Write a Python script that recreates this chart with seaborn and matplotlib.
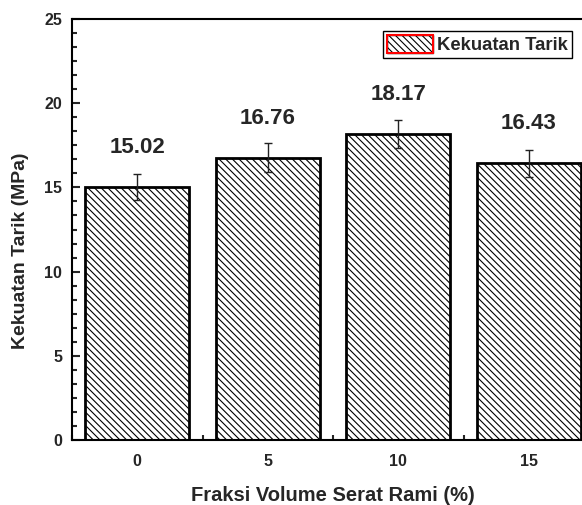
import pandas as pd
import matplotlib
matplotlib.use('Agg')
import matplotlib.pyplot as plt
import seaborn as sns
from matplotlib.ticker import MultipleLocator, AutoMinorLocator
from matplotlib.patches import Patch
from matplotlib.legend_handler import HandlerTuple

fraksi = [0, 5, 10, 15]
kekuatan = [15.02, 16.76, 18.17, 16.43]
error = [0.75, 0.85, 0.85, 0.8]
labels = ['15.02', '16.76', '18.17', '16.43']

df = pd.DataFrame({'fraksi': fraksi, 'kekuatan': kekuatan})

sns.set_style('ticks')
plt.rcParams['font.family'] = ['Liberation Sans', 'DejaVu Sans']
plt.rcParams['font.weight'] = 'bold'
plt.rcParams['hatch.linewidth'] = 0.8

HATCH = '\\' * 5

fig = plt.figure(figsize=(5.82, 5.05), dpi=100)
ax = fig.add_axes([72 / 582, 1 - 440 / 505, 522 / 582, 421 / 505])

sns.barplot(data=df, x='fraksi', y='kekuatan', native_scale=True, color='white',
            edgecolor='black', linewidth=2, width=0.8, errorbar=None, ax=ax)
for bar in ax.patches:
    bar.set_hatch(HATCH)
    bar.set_facecolor('white')

ax.errorbar(fraksi, kekuatan, yerr=error, fmt='none', ecolor='#222222',
            elinewidth=1, capsize=3, capthick=1)

for x, y, t in zip(fraksi, kekuatan, labels):
    ax.text(x, y + 2.35, t, ha='center', va='center', fontsize=16, fontweight='bold')

ax.set_xlim(-2.5, 17.5)
ax.set_ylim(0, 25)
ax.xaxis.set_major_locator(MultipleLocator(5))
ax.xaxis.set_minor_locator(MultipleLocator(2.5))
ax.yaxis.set_major_locator(MultipleLocator(5))
ax.yaxis.set_minor_locator(AutoMinorLocator(6))
ax.tick_params(which='major', direction='in', length=6, width=1.5, labelsize=11.5, pad=7)
ax.tick_params(which='minor', direction='in', length=3.5, width=1.5)
ax.tick_params(axis='x', which='major', pad=10)
for lab in ax.get_xticklabels() + ax.get_yticklabels():
    lab.set_fontweight('bold')
for sp in ax.spines.values():
    sp.set_visible(True)
    sp.set_linewidth(1.5)
    sp.set_color('black')

ax.set_xlabel('Fraksi Volume Serat Rami (%)', fontsize=14.5, fontweight='bold', labelpad=12)
ax.set_ylabel('Kekuatan Tarik (MPa)', fontsize=14, fontweight='bold')
ax.yaxis.set_label_coords(-0.082, 0.45)

h1 = Patch(facecolor='white', edgecolor='black', hatch=HATCH, linewidth=1)
h2 = Patch(facecolor='none', edgecolor='red', linewidth=1.5)
leg = ax.legend([(h1, h2)], ['Kekuatan Tarik'], handler_map={tuple: HandlerTuple(ndivide=1)},
                loc='upper right', bbox_to_anchor=(572 / 582, 1 - 31 / 505),
                bbox_transform=fig.transFigure, borderaxespad=0, fancybox=False,
                framealpha=1, edgecolor='black', prop={'size': 13.3, 'weight': 'bold'},
                handlelength=2.5, handleheight=1.15, handletextpad=0.25, borderpad=0.2)
leg.get_frame().set_linewidth(1)

fig.savefig('out.png', dpi=100)
